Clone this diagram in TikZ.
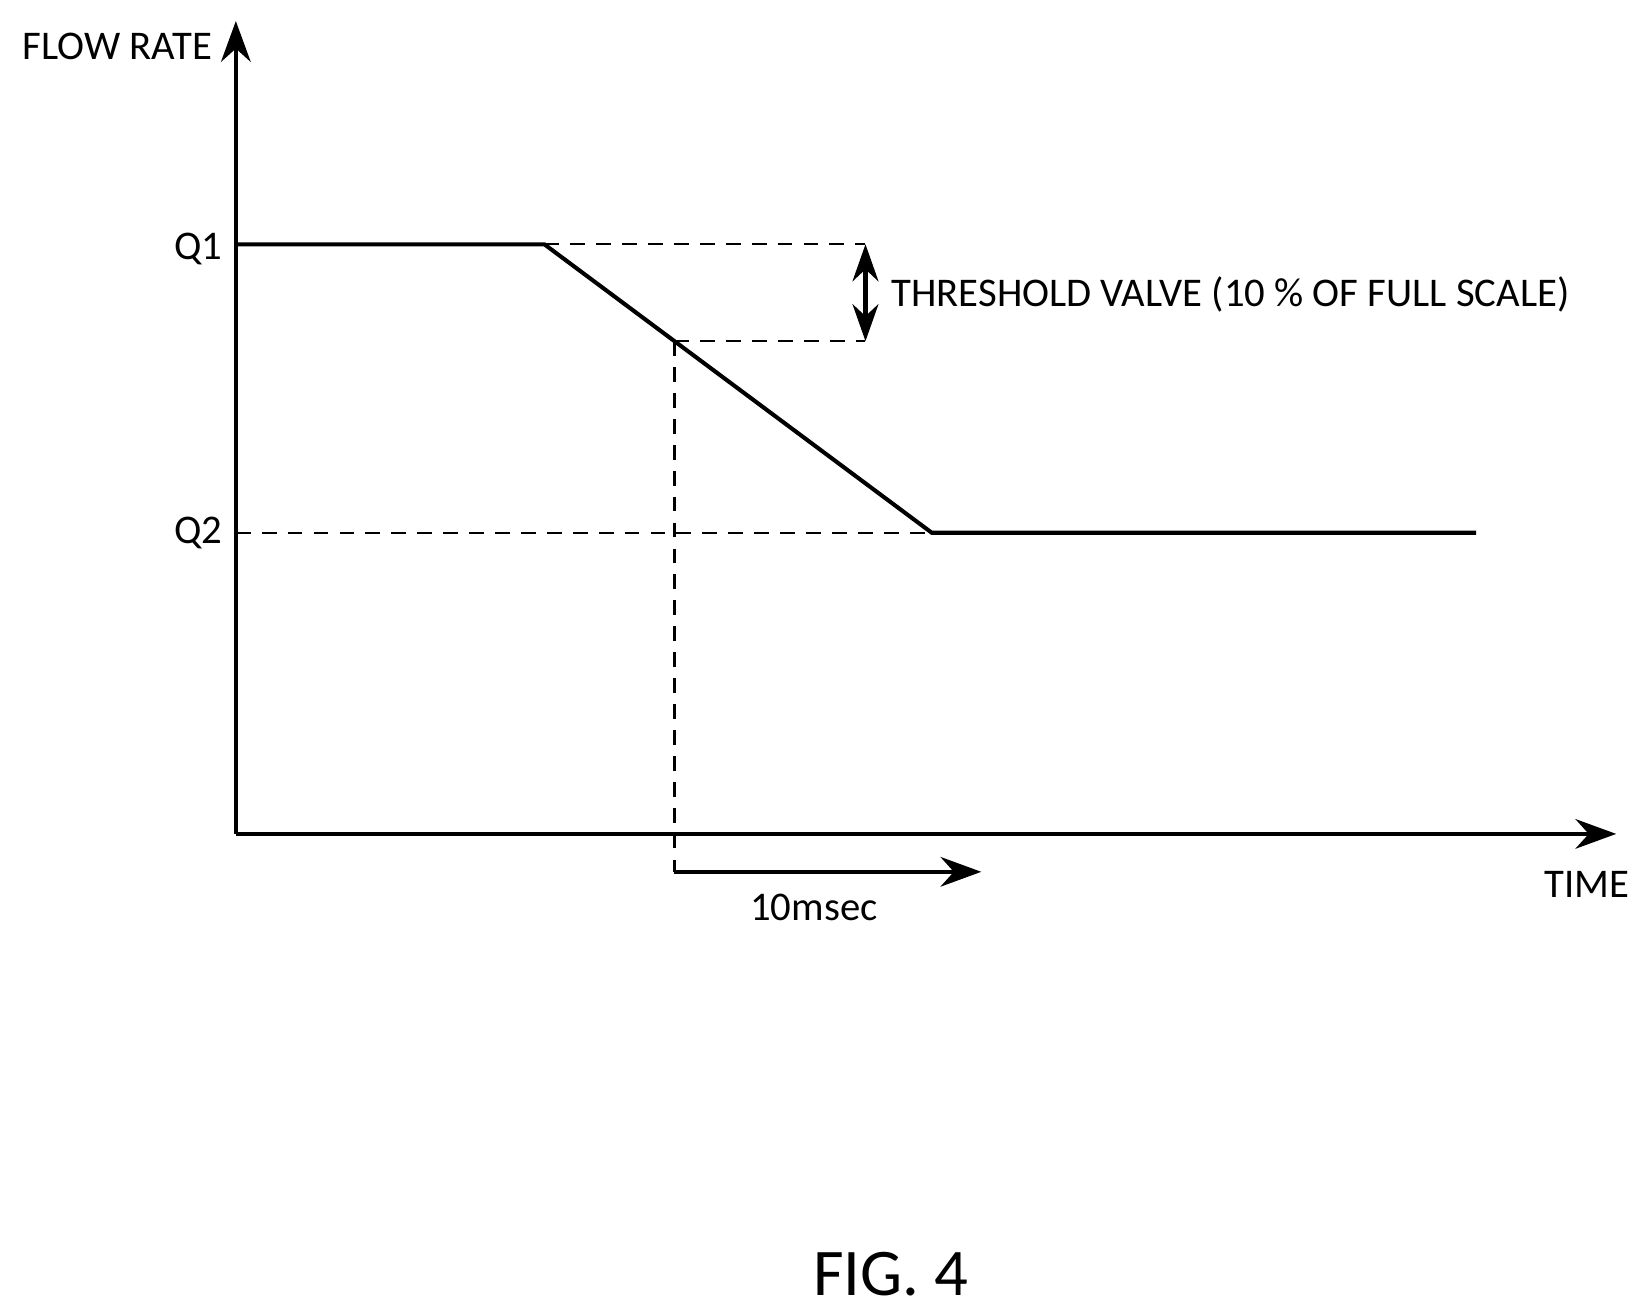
\documentclass[tikz,border=0pt]{standalone}
\usepackage{fontspec}
\setmainfont{Carlito}
\usetikzlibrary{arrows.meta}
\tikzset{
  axis/.style={line width=1.1pt, -{Stealth[length=11pt,width=8pt]}},
  curve/.style={line width=1.1pt},
  guide/.style={line width=0.6pt, dash pattern=on 4pt off 3pt},
  lbl/.style={font=\fontsize{11}{13}\selectfont, inner sep=0pt}
}
\begin{document}
\begin{tikzpicture}[x=0.01cm, y=-0.01cm]
\useasboundingbox (0,0) rectangle (1550,1244);
% axes
\coordinate (O) at (224,792);
\coordinate (ytop) at (224,20);
\coordinate (xend) at (1535,792);
\draw[axis] (O) -- (ytop);
\draw[axis] (O) -- (xend);
\node[lbl, anchor=east] (flow) at (202,44) {FLOW RATE};
\node[lbl, anchor=east] (time) at (1548,840) {TIME};
% levels
\coordinate (q1) at (224,232);
\coordinate (q2) at (224,506);
\node[lbl, anchor=east] (q1lbl) at (212,236) {Q1};
\node[lbl, anchor=east] (q2lbl) at (212,506) {Q2};
\coordinate (drop) at (517,232);
\coordinate (cross) at (640.6,324);
\coordinate (settle) at (885,506);
\coordinate (tail) at (1402,506);
\draw[curve] (q1) -- (drop) -- (settle) -- (tail);
% guides
\coordinate (thtop) at (822,232);
\coordinate (thbot) at (822,324);
\coordinate (foot) at (640.6,828);
\draw[guide] (drop) -- (thtop);
\draw[guide] (cross) -- (thbot);
\draw[guide] (q2) -- (settle);
\draw[guide] (cross) -- (foot);
\draw[line width=1.1pt, {Stealth[length=10pt,width=7pt]}-{Stealth[length=10pt,width=7pt]}] (thtop) -- (thbot);
\node[lbl, anchor=west] (thr) at (846,280) {THRESHOLD VALVE (10 \% OF FULL SCALE)};
% interval
\coordinate (tend) at (932,828);
\draw[line width=1.1pt, -{Stealth[length=11pt,width=8pt]}] (foot) -- (tend);
\node[lbl] (ms) at (773,862) {10msec};
\node[font=\fontsize{18}{20}\selectfont, inner sep=0pt] (fig) at (846,1210) {FIG. 4};
\end{tikzpicture}
\end{document}
